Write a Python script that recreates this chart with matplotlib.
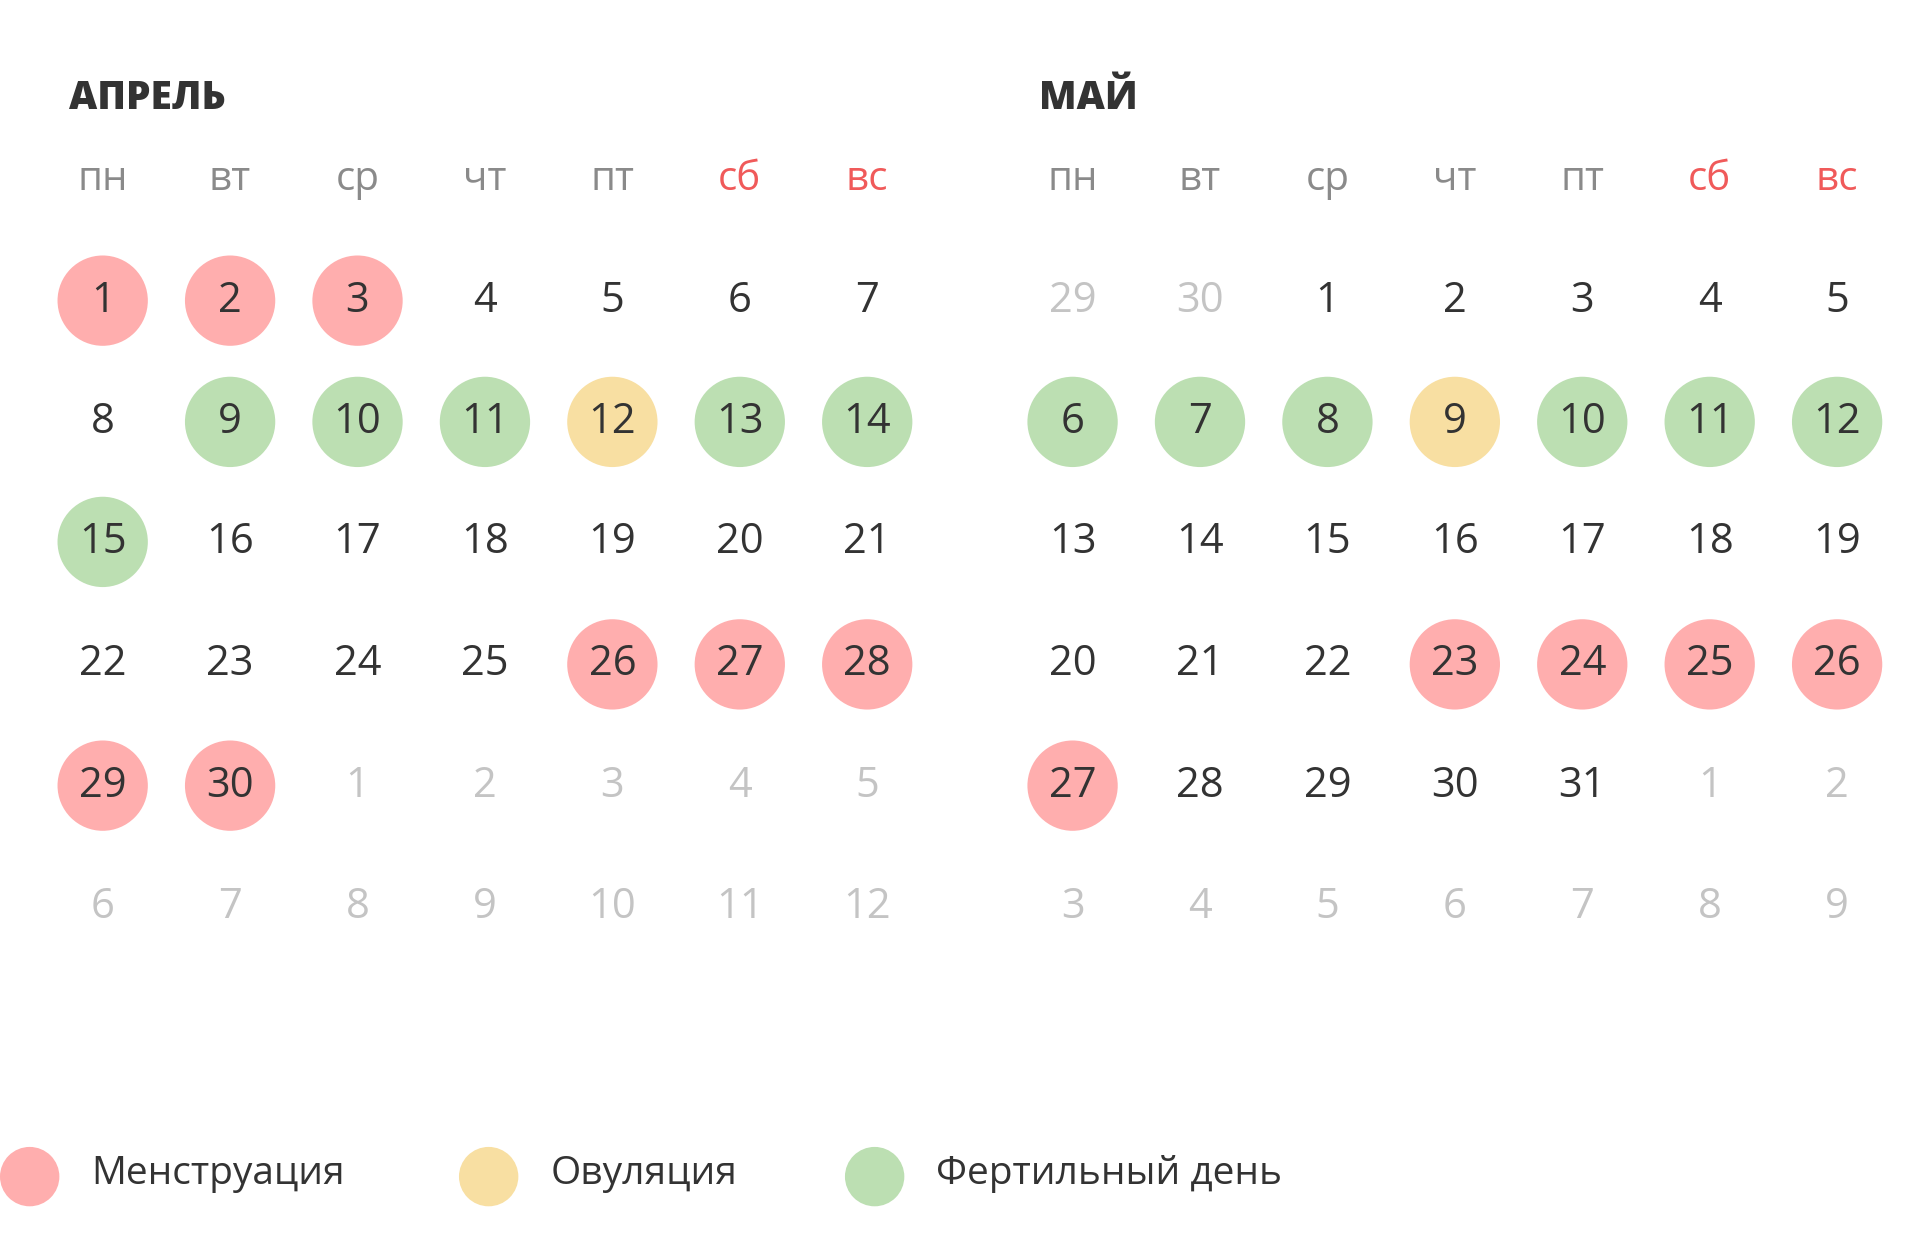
import matplotlib
matplotlib.use("Agg")
import matplotlib.pyplot as plt
from matplotlib.patches import Circle

plt.rcParams['font.family'] = ['Open Sans', 'DejaVu Sans']

months = ["АПРЕЛЬ", "МАЙ"]
weekdays = ["пн", "вт", "ср", "чт", "пт", "сб", "вс"]
april_days = [1,2,3,4,5,6,7, 8,9,10,11,12,13,14, 15,16,17,18,19,20,21,
              22,23,24,25,26,27,28, 29,30,1,2,3,4,5, 6,7,8,9,10,11,12]
april_start, april_len = 0, 30
may_days = [29,30,1,2,3,4,5, 6,7,8,9,10,11,12, 13,14,15,16,17,18,19,
            20,21,22,23,24,25,26, 27,28,29,30,31,1,2, 3,4,5,6,7,8,9]
may_start, may_len = 2, 31
april_marks = {1:"M",2:"M",3:"M",9:"F",10:"F",11:"F",12:"O",13:"F",14:"F",15:"F",
               26:"M",27:"M",28:"M",29:"M",30:"M"}
may_marks = {6:"F",7:"F",8:"F",9:"O",10:"F",11:"F",12:"F",
             23:"M",24:"M",25:"M",26:"M",27:"M"}
legend_labels = ["Менструация", "Овуляция", "Фертильный день"]
legend_keys = ["M", "O", "F"]

colors = {"M": "#ffaeae", "O": "#f8dfa2", "F": "#bcdfb2"}
dark, grey, red = "#333333", "#c4c4c4", "#f05a5a"

W, H = 1552, 999
fig = plt.figure(figsize=(19.2, 12.36), dpi=100)
ax = fig.add_axes([0, 0, 1, 1])
ax.set_xlim(0, W); ax.set_ylim(H, 0); ax.axis("off")

col_x0 = [83, 867]; dx = 103
rows_y = [243, 341, 438, 537, 635, 733]
blocks = [(april_days, april_start, april_len, april_marks),
          (may_days, may_start, may_len, may_marks)]
for m, (days, start, ln, marks) in enumerate(blocks):
    ax.text(col_x0[m] - 27, 80, months[m], fontsize=28, fontweight="heavy",
            color=dark, va="center", ha="left")
    for j, wd in enumerate(weekdays):
        ax.text(col_x0[m] + j*dx, 145, wd, fontsize=29, ha="center", va="center",
                color=red if j >= 5 else "#8a8a8a")
    for i, d in enumerate(days):
        r, c = divmod(i, 7)
        x, y = col_x0[m] + c*dx, rows_y[r]
        cur = start <= i < start + ln
        if cur and d in marks:
            ax.add_patch(Circle((x, y), 36.5, color=colors[marks[d]], lw=0))
        ax.text(x, y, str(d), fontsize=30, ha="center", va="center",
                color=dark if cur else grey, fontweight="medium")

leg_x = [24, 395, 707]
for k, lab, x in zip(legend_keys, legend_labels, leg_x):
    ax.add_patch(Circle((x, 951), 24, color=colors[k], lw=0))
    ax.text(x + 50, 949, lab, fontsize=28, ha="left", va="center", color=dark)

fig.savefig("out.png", dpi=100)
